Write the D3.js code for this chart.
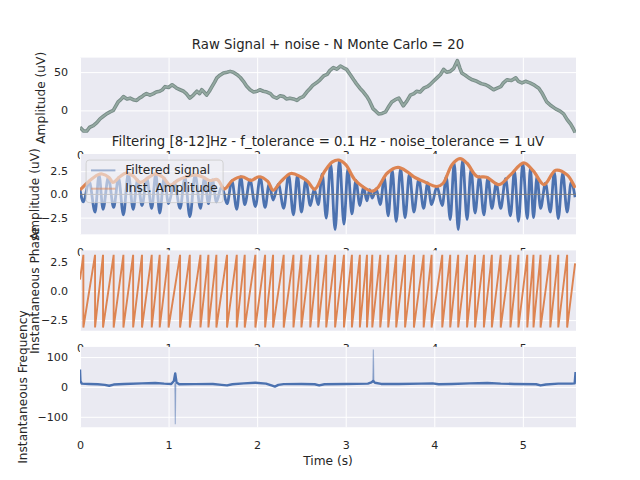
<!DOCTYPE html>
<html><head><meta charset="utf-8">
<script src="https://cdn.jsdelivr.net/npm/d3@7"></script>
<style>
body{margin:0;background:#fff}
text{font-family:"DejaVu Sans",sans-serif;fill:#262626}
</style>
</head><body>
<svg id="c" width="640" height="480"></svg>
<script>
// ---------------- DATA ----------------
const timeTicks = [0, 1, 2, 3, 4, 5];
const rawTicks = [0, 50], rawTickLabels = ["0", "50"];
const ampTicks = [-2.5, 0, 2.5], ampTickLabels = ["\u22122.5", "0.0", "2.5"];
const phaseTicks = [-2.5, 0, 2.5], phaseTickLabels = ["\u22122.5", "0.0", "2.5"];
const freqTicks = [-100, 0, 100], freqTickLabels = ["\u2212100", "0", "100"];

const rawT = [0.00,0.04,0.076,0.11,0.15,0.19,0.226,0.26,0.30,0.34,0.376,0.40,0.43,0.46,0.49,0.53,0.565,0.60,0.64,0.67,0.70,0.72,0.75,0.79,0.83,0.86,0.90,0.93,0.96,1.00,1.04,1.07,1.09,1.13,1.17,1.20,1.24,1.28,1.32,1.35,1.375,1.40,1.43,1.46,1.49,1.52,1.545,1.58,1.62,1.66,1.695,1.73,1.77,1.81,1.845,1.88,1.92,1.96,2.00,2.03,2.07,2.11,2.15,2.18,2.22,2.26,2.30,2.33,2.37,2.41,2.45,2.48,2.52,2.56,2.60,2.63,2.67,2.71,2.75,2.79,2.82,2.86,2.90,2.94,2.97,3.01,3.05,3.09,3.12,3.16,3.20,3.24,3.27,3.31,3.34,3.37,3.41,3.45,3.48,3.52,3.56,3.60,3.63,3.65,3.69,3.73,3.77,3.80,3.84,3.88,3.92,3.95,3.99,4.03,4.07,4.105,4.14,4.18,4.22,4.26,4.29,4.31,4.35,4.39,4.43,4.48,4.53,4.58,4.62,4.67,4.71,4.75,4.78,4.82,4.87,4.92,4.95,4.99,5.03,5.08,5.13,5.18,5.22,5.27,5.32,5.37,5.42,5.46,5.50,5.54,5.57,5.59];
const rawV = [-22,-27,-27,-22,-20,-16,-11,-8,-4.5,-2,0,5,11,14,18,15,16,14,13,16,18,20,22,20,22,24,25,27,31,30,33.5,31,29,27,25,22,16,20,25,22,27,24,20,25,31,37,42.5,46,49,50,51,50,47,43,38,32,27,24,25,27,25,24,22,18,16,19,18,15,16,15,13,16,18,24,29,33,36,40,45,47,52,56,54,58,56,53.6,47,40,35,29,24,18,12,2,-1,-4.5,-4,-2,4,11,14,16,10,6,12,20,22,25,24,29,31,33.5,38,42.5,47,53.6,50,51,55,65,55,49,46,42.5,40,38,35,33.5,31,27,29,31,36,40,39,42.5,38,36,38,36,33,29,22,11,6,2,-1,-4.5,-12,-18,-24,-29];

const filtT = [0,0.038,0.104,0.17,0.215,0.26,0.32,0.38,0.435,0.49,0.545,0.60,0.65,0.70,0.755,0.81,0.855,0.90,0.95,1.00,1.065,1.13,1.185,1.24,1.30,1.36,1.405,1.45,1.495,1.54,1.60,1.66,1.715,1.77,1.815,1.86,1.92,1.98,2.035,2.09,2.135,2.18,2.24,2.30,2.355,2.41,2.455,2.50,2.55,2.60,2.645,2.69,2.735,2.78,2.83,2.88,2.93,2.98,3.025,3.07,3.115,3.16,3.20,3.24,3.27,3.30,3.345,3.39,3.435,3.48,3.525,3.57,3.62,3.67,3.72,3.77,3.825,3.88,3.925,3.97,4.03,4.09,4.135,4.18,4.225,4.27,4.32,4.37,4.415,4.46,4.51,4.56,4.605,4.65,4.70,4.75,4.805,4.86,4.905,4.95,5.00,5.05,5.085,5.12,5.16,5.20,5.255,5.31,5.355,5.40,5.45,5.50,5.545,5.59];
const filtV = [0.5,-0.8,1.4,-1.9,2.1,-1.6,1.85,-1.4,1.8,-2.2,2.25,-1.6,1.55,-1.2,1.7,-1.5,2.2,-2.0,1.75,-1.0,1.3,-1.5,1.85,-2.4,2.1,-1.5,1.8,-1.0,1.55,-0.8,0.9,-1.0,1.45,-1.6,1.9,-1.1,1.55,-1.3,1.85,-1.4,1.1,-0.6,1.1,-1.5,2.1,-2.2,2.05,-1.9,1.55,-1.2,0.6,-1.1,2.2,-2.55,3.3,-3.8,3.7,-3.2,2.8,-2.1,1.5,-1.2,0.8,-0.7,0.5,-0.4,0.6,-1.1,1.8,-2.3,2.6,-2.9,2.8,-2.5,2.25,-1.9,1.65,-1.5,1.25,-1.1,0.85,-1.2,1.9,-2.7,3.4,-3.8,3.7,-2.7,2.7,-2.0,1.9,-2.2,1.8,-1.5,1.15,-1.5,1.7,-2.3,2.55,-2.9,3.35,-2.6,2.8,-2.5,1.95,-1.5,1.2,-1.9,2.4,-2.6,2.3,-1.9,1.3,-0.3];

const envT = [0.00,0.10,0.20,0.25,0.33,0.37,0.45,0.52,0.60,0.68,0.77,0.85,0.93,1.02,1.10,1.20,1.30,1.38,1.46,1.55,1.63,1.72,1.83,1.93,2.02,2.12,2.18,2.27,2.38,2.49,2.57,2.65,2.76,2.85,2.92,3.00,3.10,3.19,3.30,3.36,3.47,3.59,3.70,3.77,3.88,4.03,4.10,4.20,4.29,4.37,4.48,4.59,4.73,4.86,5.01,5.12,5.24,5.37,5.50,5.59];
const envV = [0.48,1.4,2.1,2.2,1.8,1.3,1.9,2.3,2.0,1.3,1.8,2.2,1.9,1.0,1.5,1.9,2.1,1.9,1.5,1.6,0.6,1.5,1.9,1.5,1.9,1.4,0.45,1.4,2.25,1.9,1.4,0.55,2.45,3.5,3.7,3.2,1.6,0.85,0.35,0.7,2.3,2.9,2.4,1.9,1.4,0.85,1.2,3.2,3.85,3.35,1.95,1.85,1.05,2.1,3.4,2.5,1.05,2.6,2.1,0.7];

const phaseStart = [0, 1.0], phaseEnd = [5.59, 2.4];
const phaseWrapT = [0.038,0.17,0.26,0.38,0.49,0.60,0.70,0.81,0.90,1.00,1.13,1.24,1.36,1.45,1.54,1.66,1.77,1.86,1.98,2.09,2.18,2.30,2.41,2.50,2.60,2.69,2.78,2.88,2.98,3.07,3.16,3.24,3.30,3.39,3.48,3.57,3.67,3.77,3.88,3.97,4.09,4.18,4.27,4.37,4.46,4.56,4.65,4.75,4.86,4.95,5.05,5.12,5.20,5.31,5.40,5.50];
const phaseTop = 3.14, phaseBottom = -3.14;

const freqT = [0.00,0.005,0.02,0.1,0.2,0.28,0.33,0.38,0.5,0.7,0.85,0.95,1.03,1.06,1.075,1.09,1.12,1.3,1.5,1.6,1.66,1.72,1.85,1.98,2.1,2.17,2.2,2.24,2.3,2.5,2.65,2.7,2.76,3.0,3.25,3.29,3.31,3.33,3.4,3.6,3.85,3.98,4.05,4.2,4.4,4.6,4.75,4.9,5.15,5.2,5.26,5.4,5.55,5.585,5.595];
const freqV = [58,20,11,10,9,7,4,8,10,12,13,11,10,20,45,15,9,9.5,10,7,5,9,12,14,11,4,1,7,9.5,10,9,5,9,10,11,15,20,14,10,10,11,12,9,10,12,13,11,10,9,5,8,11,11,12,50];
const freqSpikeDownT = [1.071,1.076,1.081], freqSpikeDownV = [12,-125,12];
const freqSpikeUpT = [3.306,3.312,3.318], freqSpikeUpV = [15,125,15];

// ---------------- LAYOUT ----------------
const svg = d3.select("#c");
const L = 80, R = 576, H = 80.35;
const x = d3.scaleLinear().domain([0, 5.6]).range([L, R]);
const BLUE = "#4c72b0", ORANGE = "#dd8452";

const panels = [
  {top: 57.6, dom: [-36, 69], ticks: rawTicks, labels: rawTickLabels,
   title: "Raw Signal + noise - N Monte Carlo = 20", ylab: "Amplitude (uV)", ylabX: 41},
  {top: 154.0, dom: [-4.3, 4.35], ticks: ampTicks, labels: ampTickLabels,
   title: "Filtering [8-12]Hz - f_tolerance = 0.1 Hz - noise_tolerance = 1 uV", ylab: "Amplitude (uV)", ylabX: 35},
  {top: 250.4, dom: [-3.42, 3.52], ticks: phaseTicks, labels: phaseTickLabels,
   title: null, ylab: "Instantaneous Phase", ylabX: 35},
  {top: 346.9, dom: [-135, 134], ticks: freqTicks, labels: freqTickLabels,
   title: null, ylab: "Instantaneous Frequency", ylabX: 23}
];

const zip = (a, b) => a.map((t, i) => [t, b[i]]);

panels.forEach((p, idx) => {
  const y = d3.scaleLinear().domain(p.dom).range([p.top + H, p.top]);
  const g = svg.append("g");
  g.append("rect").attr("x", L).attr("y", p.top).attr("width", R - L).attr("height", H).attr("fill", "#eaeaf2");
  const gx = g.append("g").attr("transform", `translate(0,${p.top + H})`)
    .call(d3.axisBottom(x).tickValues(timeTicks).tickSize(-H).tickFormat(""));
  const gy = g.append("g").attr("transform", `translate(${L},0)`)
    .call(d3.axisLeft(y).tickValues(p.ticks).tickSize(-(R - L)).tickFormat(""));
  [gx, gy].forEach(a => { a.select(".domain").remove(); a.selectAll("line").attr("stroke", "#fff").attr("stroke-width", 1); });

  const cid = "clip" + idx;
  svg.append("clipPath").attr("id", cid).append("rect").attr("x", L).attr("y", p.top).attr("width", R - L).attr("height", H);
  const d = g.append("g").attr("clip-path", `url(#${cid})`);
  const line = d3.line().x(v => x(v[0])).y(v => y(v[1]));

  if (idx === 0) {
    const pts = zip(rawT, rawV);
    d.append("path").attr("d", line(pts)).attr("fill", "none").attr("stroke", "#778b87").attr("stroke-width", 3.6).attr("stroke-linejoin", "round");
    d.append("path").attr("d", line(pts)).attr("fill", "none").attr("stroke", "#94a9a1").attr("stroke-width", 1.8).attr("stroke-linejoin", "round");
  } else if (idx === 1) {
    const sm = d3.line().x(v => x(v[0])).y(v => y(v[1])).curve(d3.curveMonotoneX);
    d.append("path").attr("d", sm(zip(filtT, filtV))).attr("fill", "none").attr("stroke", BLUE).attr("stroke-width", 2.8);
    d.append("path").attr("d", line([[0, 0], [5.6, 0]])).attr("stroke", "#808080").attr("stroke-width", 1);
    const ce = d3.line().x(v => x(v[0])).y(v => y(v[1])).curve(d3.curveCatmullRom.alpha(0.5));
    d.append("path").attr("d", ce(zip(envT, envV))).attr("fill", "none").attr("stroke", ORANGE).attr("stroke-width", 3.2).attr("stroke-linejoin", "round");
  } else if (idx === 2) {
    const pts = [phaseStart];
    phaseWrapT.forEach(t => { pts.push([t, phaseTop]); pts.push([t, phaseBottom]); });
    pts.push(phaseEnd);
    d.append("path").attr("d", line(pts)).attr("fill", "none").attr("stroke", ORANGE).attr("stroke-width", 1.9);
  } else {
    d.append("path").attr("d", line(zip(freqSpikeDownT, freqSpikeDownV))).attr("fill", BLUE).attr("fill-opacity", 0.45).attr("stroke", BLUE).attr("stroke-opacity", 0.45).attr("stroke-width", 1.2);
    d.append("path").attr("d", line(zip(freqSpikeUpT, freqSpikeUpV))).attr("fill", BLUE).attr("fill-opacity", 0.45).attr("stroke", BLUE).attr("stroke-opacity", 0.45).attr("stroke-width", 1.2);
    d.append("path").attr("d", line(zip(freqT, freqV))).attr("fill", "none").attr("stroke", BLUE).attr("stroke-width", 2.4).attr("stroke-linejoin", "round");
  }

  const ax = g.append("g").attr("transform", `translate(0,${p.top + H})`)
    .call(d3.axisBottom(x).tickValues(timeTicks).tickSize(0).tickPadding(13.5).tickFormat(d3.format("d")));
  const ay = g.append("g").attr("transform", `translate(${L},0)`)
    .call(d3.axisLeft(y).tickValues(p.ticks).tickSize(0).tickPadding(12).tickFormat((v, i) => p.labels[i]));
  [ax, ay].forEach(a => {
    a.select(".domain").remove();
    a.selectAll("text").attr("font-family", "DejaVu Sans").attr("font-size", 11.1).attr("fill", "#262626");
  });

  if (p.title) {
    g.append("text").attr("x", (L + R) / 2).attr("y", p.top - 8.3).attr("text-anchor", "middle")
      .attr("font-size", 13.3).text(p.title);
  }
  g.append("text").attr("transform", `translate(${p.ylabX},${p.top + H / 2}) rotate(-90)`)
    .attr("text-anchor", "middle").attr("dy", "0.35em").attr("font-size", 12.2).text(p.ylab);

  if (idx === 1) {
    const lg = g.append("g");
    lg.append("rect").attr("x", 86.1).attr("y", 160.1).attr("width", 137).attr("height", 42.5)
      .attr("rx", 3).attr("fill", "#f0f0f5").attr("fill-opacity", 0.6).attr("stroke", "#cccccc").attr("stroke-width", 0.8);
    const items = [["Filtered signal", BLUE, 174], ["Inst. Amplitude", ORANGE, 192.3]];
    items.forEach(it => {
      lg.append("line").attr("x1", 91).attr("x2", 115.4).attr("y1", it[2] - 3.6).attr("y2", it[2] - 3.6)
        .attr("stroke", it[1]).attr("stroke-opacity", 0.5).attr("stroke-width", 2);
      lg.append("text").attr("x", 125.2).attr("y", it[2]).attr("font-size", 12.2).text(it[0]);
    });
  }
});

svg.append("text").attr("x", (L + R) / 2).attr("y", 465).attr("text-anchor", "middle")
  .attr("font-size", 12.2).text("Time (s)");
</script>
</body></html>
